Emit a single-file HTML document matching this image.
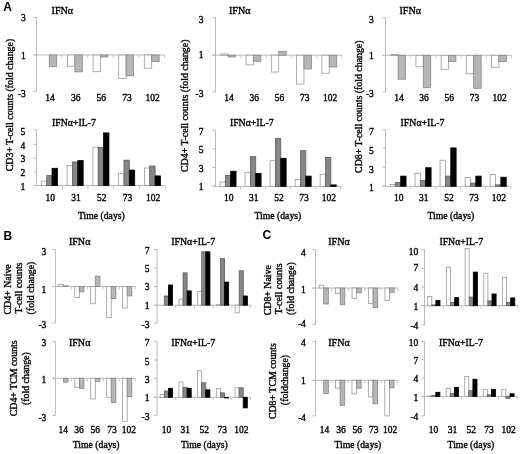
<!DOCTYPE html>
<html><head><meta charset="utf-8"><style>
html,body{margin:0;padding:0;background:#fff;width:520px;height:454px;overflow:hidden;}
svg{display:block;filter:grayscale(1);}
text{font-family:"Liberation Serif",serif;fill:#000;stroke:#000;stroke-width:0.35px;}
.p{font-family:"Liberation Sans",sans-serif;font-weight:bold;font-size:12px;stroke:none;}
</style></head><body>
<svg width="520" height="454" viewBox="0 0 520 454">
<rect width="520" height="454" fill="#fff"/>
<line x1="36.5" y1="17.5" x2="36.5" y2="91.5" stroke="#b9b9b9" stroke-width="1"/>
<line x1="33.5" y1="17.5" x2="36.5" y2="17.5" stroke="#b9b9b9" stroke-width="1"/>
<line x1="33.5" y1="55" x2="36.5" y2="55" stroke="#b9b9b9" stroke-width="1"/>
<line x1="33.5" y1="91.5" x2="36.5" y2="91.5" stroke="#b9b9b9" stroke-width="1"/>
<line x1="33.5" y1="55" x2="164.5" y2="55" stroke="#b9b9b9" stroke-width="1"/>
<rect x="41.90" y="55.00" width="7.40" height="0.00" fill="#ffffff" stroke="#9a9a9a" stroke-width="0.8"/>
<rect x="49.30" y="55.00" width="7.40" height="11.50" fill="#b6b6b6" stroke="#858585" stroke-width="0.8"/>
<rect x="67.50" y="55.00" width="7.40" height="11.20" fill="#ffffff" stroke="#9a9a9a" stroke-width="0.8"/>
<rect x="74.90" y="55.00" width="7.40" height="16.90" fill="#b6b6b6" stroke="#858585" stroke-width="0.8"/>
<rect x="93.10" y="55.00" width="7.40" height="16.70" fill="#ffffff" stroke="#9a9a9a" stroke-width="0.8"/>
<rect x="100.50" y="55.00" width="7.40" height="2.00" fill="#b6b6b6" stroke="#858585" stroke-width="0.8"/>
<rect x="118.70" y="55.00" width="7.40" height="23.40" fill="#ffffff" stroke="#9a9a9a" stroke-width="0.8"/>
<rect x="126.10" y="55.00" width="7.40" height="20.80" fill="#b6b6b6" stroke="#858585" stroke-width="0.8"/>
<rect x="144.30" y="55.00" width="7.40" height="13.20" fill="#ffffff" stroke="#9a9a9a" stroke-width="0.8"/>
<rect x="151.70" y="55.00" width="7.40" height="6.60" fill="#b6b6b6" stroke="#858585" stroke-width="0.8"/>
<line x1="62.10" y1="55" x2="62.10" y2="58" stroke="#c4c4c4" stroke-width="1"/>
<line x1="87.70" y1="55" x2="87.70" y2="58" stroke="#c4c4c4" stroke-width="1"/>
<line x1="113.30" y1="55" x2="113.30" y2="58" stroke="#c4c4c4" stroke-width="1"/>
<line x1="138.90" y1="55" x2="138.90" y2="58" stroke="#c4c4c4" stroke-width="1"/>
<line x1="164.50" y1="55" x2="164.50" y2="58" stroke="#c4c4c4" stroke-width="1"/>
<text x="25.80" y="21.45" text-anchor="end" font-size="9.5">3</text>
<text x="25.80" y="58.65" text-anchor="end" font-size="9.5">1</text>
<text x="25.80" y="96.55" text-anchor="end" font-size="9.5">-3</text>
<text x="51.60" y="13.60" text-anchor="start" font-size="10.1">IFN&#945;</text>
<text x="50.10" y="100.50" text-anchor="middle" font-size="9.5">14</text>
<text x="75.70" y="100.50" text-anchor="middle" font-size="9.5">36</text>
<text x="101.30" y="100.50" text-anchor="middle" font-size="9.5">56</text>
<text x="126.90" y="100.50" text-anchor="middle" font-size="9.5">73</text>
<text x="152.50" y="100.50" text-anchor="middle" font-size="9.5">102</text>
<line x1="36.5" y1="129.9" x2="36.5" y2="185.6" stroke="#b9b9b9" stroke-width="1"/>
<line x1="33.5" y1="129.9" x2="36.5" y2="129.9" stroke="#b9b9b9" stroke-width="1"/>
<line x1="33.5" y1="144.3" x2="36.5" y2="144.3" stroke="#b9b9b9" stroke-width="1"/>
<line x1="33.5" y1="158.2" x2="36.5" y2="158.2" stroke="#b9b9b9" stroke-width="1"/>
<line x1="33.5" y1="171.8" x2="36.5" y2="171.8" stroke="#b9b9b9" stroke-width="1"/>
<line x1="33.5" y1="185.6" x2="36.5" y2="185.6" stroke="#b9b9b9" stroke-width="1"/>
<line x1="33.5" y1="185.6" x2="165.3" y2="185.6" stroke="#b9b9b9" stroke-width="1"/>
<rect x="41.36" y="181.20" width="5.35" height="4.40" fill="#ffffff" stroke="#9a9a9a" stroke-width="0.8"/>
<rect x="46.71" y="175.60" width="5.35" height="10.00" fill="#868686" stroke="#5e5e5e" stroke-width="0.8"/>
<rect x="52.06" y="168.30" width="5.35" height="17.30" fill="#000000" stroke="#000000" stroke-width="0.8"/>
<rect x="67.12" y="165.50" width="5.35" height="20.10" fill="#ffffff" stroke="#9a9a9a" stroke-width="0.8"/>
<rect x="72.47" y="162.00" width="5.35" height="23.60" fill="#868686" stroke="#5e5e5e" stroke-width="0.8"/>
<rect x="77.82" y="160.60" width="5.35" height="25.00" fill="#000000" stroke="#000000" stroke-width="0.8"/>
<rect x="92.88" y="147.20" width="5.35" height="38.40" fill="#ffffff" stroke="#9a9a9a" stroke-width="0.8"/>
<rect x="98.22" y="147.20" width="5.35" height="38.40" fill="#868686" stroke="#5e5e5e" stroke-width="0.8"/>
<rect x="103.58" y="132.90" width="5.35" height="52.70" fill="#000000" stroke="#000000" stroke-width="0.8"/>
<rect x="118.64" y="173.40" width="5.35" height="12.20" fill="#ffffff" stroke="#9a9a9a" stroke-width="0.8"/>
<rect x="123.99" y="160.20" width="5.35" height="25.40" fill="#868686" stroke="#5e5e5e" stroke-width="0.8"/>
<rect x="129.34" y="170.10" width="5.35" height="15.50" fill="#000000" stroke="#000000" stroke-width="0.8"/>
<rect x="144.40" y="168.00" width="5.35" height="17.60" fill="#ffffff" stroke="#9a9a9a" stroke-width="0.8"/>
<rect x="149.75" y="166.00" width="5.35" height="19.60" fill="#868686" stroke="#5e5e5e" stroke-width="0.8"/>
<rect x="155.09" y="175.90" width="5.35" height="9.70" fill="#000000" stroke="#000000" stroke-width="0.8"/>
<line x1="62.26" y1="185.6" x2="62.26" y2="188.6" stroke="#c4c4c4" stroke-width="1"/>
<line x1="88.02" y1="185.6" x2="88.02" y2="188.6" stroke="#c4c4c4" stroke-width="1"/>
<line x1="113.78" y1="185.6" x2="113.78" y2="188.6" stroke="#c4c4c4" stroke-width="1"/>
<line x1="139.54" y1="185.6" x2="139.54" y2="188.6" stroke="#c4c4c4" stroke-width="1"/>
<line x1="165.30" y1="185.6" x2="165.30" y2="188.6" stroke="#c4c4c4" stroke-width="1"/>
<text x="25.30" y="134.85" text-anchor="end" font-size="9.5">5</text>
<text x="25.30" y="148.95" text-anchor="end" font-size="9.5">4</text>
<text x="25.30" y="161.85" text-anchor="end" font-size="9.5">3</text>
<text x="25.30" y="175.65" text-anchor="end" font-size="9.5">2</text>
<text x="25.30" y="189.55" text-anchor="end" font-size="9.5">1</text>
<text x="52.00" y="126.10" text-anchor="start" font-size="9.8">IFN&#945;+IL-7</text>
<text x="50.18" y="200.90" text-anchor="middle" font-size="9.5">10</text>
<text x="75.94" y="200.90" text-anchor="middle" font-size="9.5">31</text>
<text x="101.70" y="200.90" text-anchor="middle" font-size="9.5">52</text>
<text x="127.46" y="200.90" text-anchor="middle" font-size="9.5">73</text>
<text x="153.22" y="200.90" text-anchor="middle" font-size="9.5">102</text>
<line x1="215.5" y1="17.7" x2="215.5" y2="92" stroke="#b9b9b9" stroke-width="1"/>
<line x1="212.5" y1="17.7" x2="215.5" y2="17.7" stroke="#b9b9b9" stroke-width="1"/>
<line x1="212.5" y1="55.2" x2="215.5" y2="55.2" stroke="#b9b9b9" stroke-width="1"/>
<line x1="212.5" y1="92" x2="215.5" y2="92" stroke="#b9b9b9" stroke-width="1"/>
<line x1="212.5" y1="55.2" x2="341.9" y2="55.2" stroke="#b9b9b9" stroke-width="1"/>
<rect x="220.74" y="54.00" width="7.40" height="1.20" fill="#ffffff" stroke="#9a9a9a" stroke-width="0.8"/>
<rect x="228.14" y="55.20" width="7.40" height="1.80" fill="#b6b6b6" stroke="#858585" stroke-width="0.8"/>
<rect x="246.02" y="55.20" width="7.40" height="9.70" fill="#ffffff" stroke="#9a9a9a" stroke-width="0.8"/>
<rect x="253.42" y="55.20" width="7.40" height="6.10" fill="#b6b6b6" stroke="#858585" stroke-width="0.8"/>
<rect x="271.30" y="55.20" width="7.40" height="16.80" fill="#ffffff" stroke="#9a9a9a" stroke-width="0.8"/>
<rect x="278.70" y="51.30" width="7.40" height="3.90" fill="#b6b6b6" stroke="#858585" stroke-width="0.8"/>
<rect x="296.58" y="55.20" width="7.40" height="28.90" fill="#ffffff" stroke="#9a9a9a" stroke-width="0.8"/>
<rect x="303.98" y="55.20" width="7.40" height="13.80" fill="#b6b6b6" stroke="#858585" stroke-width="0.8"/>
<rect x="321.86" y="55.20" width="7.40" height="18.00" fill="#ffffff" stroke="#9a9a9a" stroke-width="0.8"/>
<rect x="329.26" y="55.20" width="7.40" height="11.80" fill="#b6b6b6" stroke="#858585" stroke-width="0.8"/>
<line x1="240.78" y1="55.2" x2="240.78" y2="58.2" stroke="#c4c4c4" stroke-width="1"/>
<line x1="266.06" y1="55.2" x2="266.06" y2="58.2" stroke="#c4c4c4" stroke-width="1"/>
<line x1="291.34" y1="55.2" x2="291.34" y2="58.2" stroke="#c4c4c4" stroke-width="1"/>
<line x1="316.62" y1="55.2" x2="316.62" y2="58.2" stroke="#c4c4c4" stroke-width="1"/>
<line x1="341.90" y1="55.2" x2="341.90" y2="58.2" stroke="#c4c4c4" stroke-width="1"/>
<text x="203.50" y="22.65" text-anchor="end" font-size="9.5">3</text>
<text x="203.50" y="58.45" text-anchor="end" font-size="9.5">1</text>
<text x="203.50" y="97.35" text-anchor="end" font-size="9.5">-3</text>
<text x="229.00" y="13.60" text-anchor="start" font-size="10.1">IFN&#945;</text>
<text x="228.94" y="100.50" text-anchor="middle" font-size="9.5">14</text>
<text x="254.22" y="100.50" text-anchor="middle" font-size="9.5">36</text>
<text x="279.50" y="100.50" text-anchor="middle" font-size="9.5">56</text>
<text x="304.78" y="100.50" text-anchor="middle" font-size="9.5">73</text>
<text x="330.06" y="100.50" text-anchor="middle" font-size="9.5">102</text>
<line x1="215.5" y1="130.3" x2="215.5" y2="186.4" stroke="#b9b9b9" stroke-width="1"/>
<line x1="212.5" y1="130.3" x2="215.5" y2="130.3" stroke="#b9b9b9" stroke-width="1"/>
<line x1="212.5" y1="148.9" x2="215.5" y2="148.9" stroke="#b9b9b9" stroke-width="1"/>
<line x1="212.5" y1="167.4" x2="215.5" y2="167.4" stroke="#b9b9b9" stroke-width="1"/>
<line x1="212.5" y1="186" x2="215.5" y2="186" stroke="#b9b9b9" stroke-width="1"/>
<line x1="212.5" y1="186.4" x2="340.7" y2="186.4" stroke="#b9b9b9" stroke-width="1"/>
<rect x="220.00" y="182.00" width="5.35" height="4.40" fill="#ffffff" stroke="#9a9a9a" stroke-width="0.8"/>
<rect x="225.34" y="175.40" width="5.35" height="11.00" fill="#868686" stroke="#5e5e5e" stroke-width="0.8"/>
<rect x="230.69" y="171.20" width="5.35" height="15.20" fill="#000000" stroke="#000000" stroke-width="0.8"/>
<rect x="245.03" y="172.30" width="5.35" height="14.10" fill="#ffffff" stroke="#9a9a9a" stroke-width="0.8"/>
<rect x="250.38" y="156.70" width="5.35" height="29.70" fill="#868686" stroke="#5e5e5e" stroke-width="0.8"/>
<rect x="255.73" y="173.40" width="5.35" height="13.00" fill="#000000" stroke="#000000" stroke-width="0.8"/>
<rect x="270.08" y="160.70" width="5.35" height="25.70" fill="#ffffff" stroke="#9a9a9a" stroke-width="0.8"/>
<rect x="275.43" y="138.60" width="5.35" height="47.80" fill="#868686" stroke="#5e5e5e" stroke-width="0.8"/>
<rect x="280.78" y="158.30" width="5.35" height="28.10" fill="#000000" stroke="#000000" stroke-width="0.8"/>
<rect x="295.12" y="179.40" width="5.35" height="7.00" fill="#ffffff" stroke="#9a9a9a" stroke-width="0.8"/>
<rect x="300.47" y="150.70" width="5.35" height="35.70" fill="#868686" stroke="#5e5e5e" stroke-width="0.8"/>
<rect x="305.81" y="176.10" width="5.35" height="10.30" fill="#000000" stroke="#000000" stroke-width="0.8"/>
<rect x="320.16" y="174.30" width="5.35" height="12.10" fill="#ffffff" stroke="#9a9a9a" stroke-width="0.8"/>
<rect x="325.51" y="157.40" width="5.35" height="29.00" fill="#868686" stroke="#5e5e5e" stroke-width="0.8"/>
<rect x="330.86" y="184.90" width="5.35" height="1.50" fill="#000000" stroke="#000000" stroke-width="0.8"/>
<line x1="240.54" y1="186.4" x2="240.54" y2="189.4" stroke="#c4c4c4" stroke-width="1"/>
<line x1="265.58" y1="186.4" x2="265.58" y2="189.4" stroke="#c4c4c4" stroke-width="1"/>
<line x1="290.62" y1="186.4" x2="290.62" y2="189.4" stroke="#c4c4c4" stroke-width="1"/>
<line x1="315.66" y1="186.4" x2="315.66" y2="189.4" stroke="#c4c4c4" stroke-width="1"/>
<line x1="340.70" y1="186.4" x2="340.70" y2="189.4" stroke="#c4c4c4" stroke-width="1"/>
<text x="203.50" y="135.25" text-anchor="end" font-size="9.5">7</text>
<text x="203.50" y="152.85" text-anchor="end" font-size="9.5">5</text>
<text x="203.50" y="171.65" text-anchor="end" font-size="9.5">3</text>
<text x="203.50" y="190.35" text-anchor="end" font-size="9.5">1</text>
<text x="229.90" y="126.10" text-anchor="start" font-size="9.8">IFN&#945;+IL-7</text>
<text x="228.82" y="200.90" text-anchor="middle" font-size="9.5">10</text>
<text x="253.86" y="200.90" text-anchor="middle" font-size="9.5">31</text>
<text x="278.90" y="200.90" text-anchor="middle" font-size="9.5">52</text>
<text x="303.94" y="200.90" text-anchor="middle" font-size="9.5">73</text>
<text x="328.98" y="200.90" text-anchor="middle" font-size="9.5">102</text>
<line x1="385.5" y1="17.7" x2="385.5" y2="92" stroke="#b9b9b9" stroke-width="1"/>
<line x1="382.5" y1="17.7" x2="385.5" y2="17.7" stroke="#b9b9b9" stroke-width="1"/>
<line x1="382.5" y1="55.3" x2="385.5" y2="55.3" stroke="#b9b9b9" stroke-width="1"/>
<line x1="382.5" y1="92" x2="385.5" y2="92" stroke="#b9b9b9" stroke-width="1"/>
<line x1="382.5" y1="55.3" x2="511.5" y2="55.3" stroke="#b9b9b9" stroke-width="1"/>
<rect x="390.70" y="54.50" width="7.40" height="0.80" fill="#ffffff" stroke="#9a9a9a" stroke-width="0.8"/>
<rect x="398.10" y="55.30" width="7.40" height="23.90" fill="#b6b6b6" stroke="#858585" stroke-width="0.8"/>
<rect x="415.90" y="55.30" width="7.40" height="11.50" fill="#ffffff" stroke="#9a9a9a" stroke-width="0.8"/>
<rect x="423.30" y="55.30" width="7.40" height="32.40" fill="#b6b6b6" stroke="#858585" stroke-width="0.8"/>
<rect x="441.10" y="55.30" width="7.40" height="13.90" fill="#ffffff" stroke="#9a9a9a" stroke-width="0.8"/>
<rect x="448.50" y="55.30" width="7.40" height="6.30" fill="#b6b6b6" stroke="#858585" stroke-width="0.8"/>
<rect x="466.30" y="55.30" width="7.40" height="18.50" fill="#ffffff" stroke="#9a9a9a" stroke-width="0.8"/>
<rect x="473.70" y="55.30" width="7.40" height="33.00" fill="#b6b6b6" stroke="#858585" stroke-width="0.8"/>
<rect x="491.50" y="55.30" width="7.40" height="11.90" fill="#ffffff" stroke="#9a9a9a" stroke-width="0.8"/>
<rect x="498.90" y="55.30" width="7.40" height="6.30" fill="#b6b6b6" stroke="#858585" stroke-width="0.8"/>
<line x1="410.70" y1="55.3" x2="410.70" y2="58.3" stroke="#c4c4c4" stroke-width="1"/>
<line x1="435.90" y1="55.3" x2="435.90" y2="58.3" stroke="#c4c4c4" stroke-width="1"/>
<line x1="461.10" y1="55.3" x2="461.10" y2="58.3" stroke="#c4c4c4" stroke-width="1"/>
<line x1="486.30" y1="55.3" x2="486.30" y2="58.3" stroke="#c4c4c4" stroke-width="1"/>
<line x1="511.50" y1="55.3" x2="511.50" y2="58.3" stroke="#c4c4c4" stroke-width="1"/>
<text x="373.80" y="22.65" text-anchor="end" font-size="9.5">3</text>
<text x="373.80" y="58.55" text-anchor="end" font-size="9.5">1</text>
<text x="373.80" y="96.95" text-anchor="end" font-size="9.5">-3</text>
<text x="399.50" y="13.60" text-anchor="start" font-size="10.1">IFN&#945;</text>
<text x="398.90" y="100.50" text-anchor="middle" font-size="9.5">14</text>
<text x="424.10" y="100.50" text-anchor="middle" font-size="9.5">36</text>
<text x="449.30" y="100.50" text-anchor="middle" font-size="9.5">56</text>
<text x="474.50" y="100.50" text-anchor="middle" font-size="9.5">73</text>
<text x="499.70" y="100.50" text-anchor="middle" font-size="9.5">102</text>
<line x1="385.5" y1="129.7" x2="385.5" y2="186.3" stroke="#b9b9b9" stroke-width="1"/>
<line x1="382.5" y1="129.7" x2="385.5" y2="129.7" stroke="#b9b9b9" stroke-width="1"/>
<line x1="382.5" y1="148.2" x2="385.5" y2="148.2" stroke="#b9b9b9" stroke-width="1"/>
<line x1="382.5" y1="167.2" x2="385.5" y2="167.2" stroke="#b9b9b9" stroke-width="1"/>
<line x1="382.5" y1="186" x2="385.5" y2="186" stroke="#b9b9b9" stroke-width="1"/>
<line x1="382.5" y1="186.3" x2="510.7" y2="186.3" stroke="#b9b9b9" stroke-width="1"/>
<rect x="390.00" y="184.40" width="5.35" height="1.90" fill="#ffffff" stroke="#9a9a9a" stroke-width="0.8"/>
<rect x="395.35" y="182.60" width="5.35" height="3.70" fill="#868686" stroke="#5e5e5e" stroke-width="0.8"/>
<rect x="400.69" y="176.10" width="5.35" height="10.20" fill="#000000" stroke="#000000" stroke-width="0.8"/>
<rect x="415.04" y="173.20" width="5.35" height="13.10" fill="#ffffff" stroke="#9a9a9a" stroke-width="0.8"/>
<rect x="420.39" y="180.50" width="5.35" height="5.80" fill="#868686" stroke="#5e5e5e" stroke-width="0.8"/>
<rect x="425.74" y="167.70" width="5.35" height="18.60" fill="#000000" stroke="#000000" stroke-width="0.8"/>
<rect x="440.08" y="160.20" width="5.35" height="26.10" fill="#ffffff" stroke="#9a9a9a" stroke-width="0.8"/>
<rect x="445.43" y="176.10" width="5.35" height="10.20" fill="#868686" stroke="#5e5e5e" stroke-width="0.8"/>
<rect x="450.78" y="147.90" width="5.35" height="38.40" fill="#000000" stroke="#000000" stroke-width="0.8"/>
<rect x="465.12" y="177.60" width="5.35" height="8.70" fill="#ffffff" stroke="#9a9a9a" stroke-width="0.8"/>
<rect x="470.47" y="183.10" width="5.35" height="3.20" fill="#868686" stroke="#5e5e5e" stroke-width="0.8"/>
<rect x="475.81" y="176.10" width="5.35" height="10.20" fill="#000000" stroke="#000000" stroke-width="0.8"/>
<rect x="490.16" y="174.50" width="5.35" height="11.80" fill="#ffffff" stroke="#9a9a9a" stroke-width="0.8"/>
<rect x="495.51" y="184.90" width="5.35" height="1.40" fill="#868686" stroke="#5e5e5e" stroke-width="0.8"/>
<rect x="500.86" y="177.20" width="5.35" height="9.10" fill="#000000" stroke="#000000" stroke-width="0.8"/>
<line x1="410.54" y1="186.3" x2="410.54" y2="189.3" stroke="#c4c4c4" stroke-width="1"/>
<line x1="435.58" y1="186.3" x2="435.58" y2="189.3" stroke="#c4c4c4" stroke-width="1"/>
<line x1="460.62" y1="186.3" x2="460.62" y2="189.3" stroke="#c4c4c4" stroke-width="1"/>
<line x1="485.66" y1="186.3" x2="485.66" y2="189.3" stroke="#c4c4c4" stroke-width="1"/>
<line x1="510.70" y1="186.3" x2="510.70" y2="189.3" stroke="#c4c4c4" stroke-width="1"/>
<text x="373.80" y="135.25" text-anchor="end" font-size="9.5">7</text>
<text x="373.80" y="154.05" text-anchor="end" font-size="9.5">5</text>
<text x="373.80" y="173.05" text-anchor="end" font-size="9.5">3</text>
<text x="373.80" y="191.05" text-anchor="end" font-size="9.5">1</text>
<text x="400.60" y="126.10" text-anchor="start" font-size="9.8">IFN&#945;+IL-7</text>
<text x="398.82" y="200.90" text-anchor="middle" font-size="9.5">10</text>
<text x="423.86" y="200.90" text-anchor="middle" font-size="9.5">31</text>
<text x="448.90" y="200.90" text-anchor="middle" font-size="9.5">52</text>
<text x="473.94" y="200.90" text-anchor="middle" font-size="9.5">73</text>
<text x="498.98" y="200.90" text-anchor="middle" font-size="9.5">102</text>
<line x1="55.4" y1="249.5" x2="55.4" y2="323" stroke="#b9b9b9" stroke-width="1"/>
<line x1="52.4" y1="249.5" x2="55.4" y2="249.5" stroke="#b9b9b9" stroke-width="1"/>
<line x1="52.4" y1="286.5" x2="55.4" y2="286.5" stroke="#b9b9b9" stroke-width="1"/>
<line x1="52.4" y1="323" x2="55.4" y2="323" stroke="#b9b9b9" stroke-width="1"/>
<line x1="52.4" y1="286.5" x2="135.2" y2="286.5" stroke="#b9b9b9" stroke-width="1"/>
<rect x="58.78" y="284.50" width="4.60" height="2.00" fill="#ffffff" stroke="#9a9a9a" stroke-width="0.8"/>
<rect x="63.38" y="285.80" width="4.60" height="0.70" fill="#b6b6b6" stroke="#858585" stroke-width="0.8"/>
<rect x="74.74" y="286.50" width="4.60" height="10.90" fill="#ffffff" stroke="#9a9a9a" stroke-width="0.8"/>
<rect x="79.34" y="286.50" width="4.60" height="5.40" fill="#b6b6b6" stroke="#858585" stroke-width="0.8"/>
<rect x="90.70" y="286.50" width="4.60" height="17.30" fill="#ffffff" stroke="#9a9a9a" stroke-width="0.8"/>
<rect x="95.30" y="276.20" width="4.60" height="10.30" fill="#b6b6b6" stroke="#858585" stroke-width="0.8"/>
<rect x="106.66" y="286.50" width="4.60" height="31.10" fill="#ffffff" stroke="#9a9a9a" stroke-width="0.8"/>
<rect x="111.26" y="286.50" width="4.60" height="12.10" fill="#b6b6b6" stroke="#858585" stroke-width="0.8"/>
<rect x="122.62" y="286.50" width="4.60" height="21.60" fill="#ffffff" stroke="#9a9a9a" stroke-width="0.8"/>
<rect x="127.22" y="286.50" width="4.60" height="9.40" fill="#b6b6b6" stroke="#858585" stroke-width="0.8"/>
<line x1="71.36" y1="286.5" x2="71.36" y2="289.5" stroke="#c4c4c4" stroke-width="1"/>
<line x1="87.32" y1="286.5" x2="87.32" y2="289.5" stroke="#c4c4c4" stroke-width="1"/>
<line x1="103.28" y1="286.5" x2="103.28" y2="289.5" stroke="#c4c4c4" stroke-width="1"/>
<line x1="119.24" y1="286.5" x2="119.24" y2="289.5" stroke="#c4c4c4" stroke-width="1"/>
<line x1="135.20" y1="286.5" x2="135.20" y2="289.5" stroke="#c4c4c4" stroke-width="1"/>
<text x="46.30" y="255.45" text-anchor="end" font-size="9.5">3</text>
<text x="46.30" y="292.85" text-anchor="end" font-size="9.5">1</text>
<text x="46.30" y="327.55" text-anchor="end" font-size="9.5">-3</text>
<text x="68.90" y="245.20" text-anchor="start" font-size="10.1">IFN&#945;</text>
<line x1="157.0" y1="249.5" x2="157.0" y2="323.2" stroke="#b9b9b9" stroke-width="1"/>
<line x1="154.0" y1="249.5" x2="157.0" y2="249.5" stroke="#b9b9b9" stroke-width="1"/>
<line x1="154.0" y1="268" x2="157.0" y2="268" stroke="#b9b9b9" stroke-width="1"/>
<line x1="154.0" y1="286.6" x2="157.0" y2="286.6" stroke="#b9b9b9" stroke-width="1"/>
<line x1="154.0" y1="305.2" x2="157.0" y2="305.2" stroke="#b9b9b9" stroke-width="1"/>
<line x1="154.0" y1="323.2" x2="157.0" y2="323.2" stroke="#b9b9b9" stroke-width="1"/>
<line x1="154.0" y1="305.2" x2="250.6" y2="305.2" stroke="#b9b9b9" stroke-width="1"/>
<rect x="160.21" y="305.20" width="4.10" height="0.00" fill="#ffffff" stroke="#9a9a9a" stroke-width="0.8"/>
<rect x="164.31" y="296.00" width="4.10" height="9.20" fill="#868686" stroke="#5e5e5e" stroke-width="0.8"/>
<rect x="168.41" y="285.00" width="4.10" height="20.20" fill="#000000" stroke="#000000" stroke-width="0.8"/>
<rect x="178.93" y="299.20" width="4.10" height="6.00" fill="#ffffff" stroke="#9a9a9a" stroke-width="0.8"/>
<rect x="183.03" y="272.80" width="4.10" height="32.40" fill="#868686" stroke="#5e5e5e" stroke-width="0.8"/>
<rect x="187.13" y="290.90" width="4.10" height="14.30" fill="#000000" stroke="#000000" stroke-width="0.8"/>
<rect x="197.65" y="291.40" width="4.10" height="13.80" fill="#ffffff" stroke="#9a9a9a" stroke-width="0.8"/>
<rect x="201.75" y="251.80" width="4.10" height="53.40" fill="#868686" stroke="#5e5e5e" stroke-width="0.8"/>
<rect x="205.85" y="251.80" width="4.10" height="53.40" fill="#000000" stroke="#000000" stroke-width="0.8"/>
<rect x="216.37" y="304.80" width="4.10" height="0.40" fill="#ffffff" stroke="#9a9a9a" stroke-width="0.8"/>
<rect x="220.47" y="258.60" width="4.10" height="46.60" fill="#868686" stroke="#5e5e5e" stroke-width="0.8"/>
<rect x="224.57" y="282.10" width="4.10" height="23.10" fill="#000000" stroke="#000000" stroke-width="0.8"/>
<rect x="235.09" y="305.20" width="4.10" height="7.70" fill="#ffffff" stroke="#9a9a9a" stroke-width="0.8"/>
<rect x="239.19" y="270.80" width="4.10" height="34.40" fill="#868686" stroke="#5e5e5e" stroke-width="0.8"/>
<rect x="243.29" y="296.00" width="4.10" height="9.20" fill="#000000" stroke="#000000" stroke-width="0.8"/>
<line x1="175.72" y1="305.2" x2="175.72" y2="308.2" stroke="#c4c4c4" stroke-width="1"/>
<line x1="194.44" y1="305.2" x2="194.44" y2="308.2" stroke="#c4c4c4" stroke-width="1"/>
<line x1="213.16" y1="305.2" x2="213.16" y2="308.2" stroke="#c4c4c4" stroke-width="1"/>
<line x1="231.88" y1="305.2" x2="231.88" y2="308.2" stroke="#c4c4c4" stroke-width="1"/>
<line x1="250.60" y1="305.2" x2="250.60" y2="308.2" stroke="#c4c4c4" stroke-width="1"/>
<text x="149.50" y="254.25" text-anchor="end" font-size="9.5">7</text>
<text x="149.50" y="271.75" text-anchor="end" font-size="9.5">5</text>
<text x="149.50" y="290.45" text-anchor="end" font-size="9.5">3</text>
<text x="149.50" y="308.85" text-anchor="end" font-size="9.5">1</text>
<text x="149.50" y="327.55" text-anchor="end" font-size="9.5">-3</text>
<text x="171.30" y="245.20" text-anchor="start" font-size="9.8">IFN&#945;+IL-7</text>
<line x1="55.4" y1="341.3" x2="55.4" y2="415.4" stroke="#b9b9b9" stroke-width="1"/>
<line x1="52.4" y1="341.3" x2="55.4" y2="341.3" stroke="#b9b9b9" stroke-width="1"/>
<line x1="52.4" y1="378.3" x2="55.4" y2="378.3" stroke="#b9b9b9" stroke-width="1"/>
<line x1="52.4" y1="415.4" x2="55.4" y2="415.4" stroke="#b9b9b9" stroke-width="1"/>
<line x1="52.4" y1="378.3" x2="135.2" y2="378.3" stroke="#b9b9b9" stroke-width="1"/>
<rect x="58.78" y="378.30" width="4.60" height="0.00" fill="#ffffff" stroke="#9a9a9a" stroke-width="0.8"/>
<rect x="63.38" y="378.30" width="4.60" height="3.90" fill="#b6b6b6" stroke="#858585" stroke-width="0.8"/>
<rect x="74.74" y="378.30" width="4.60" height="9.00" fill="#ffffff" stroke="#9a9a9a" stroke-width="0.8"/>
<rect x="79.34" y="378.30" width="4.60" height="10.00" fill="#b6b6b6" stroke="#858585" stroke-width="0.8"/>
<rect x="90.70" y="378.30" width="4.60" height="20.70" fill="#ffffff" stroke="#9a9a9a" stroke-width="0.8"/>
<rect x="95.30" y="378.30" width="4.60" height="3.20" fill="#b6b6b6" stroke="#858585" stroke-width="0.8"/>
<rect x="106.66" y="378.30" width="4.60" height="19.00" fill="#ffffff" stroke="#9a9a9a" stroke-width="0.8"/>
<rect x="111.26" y="378.30" width="4.60" height="24.30" fill="#b6b6b6" stroke="#858585" stroke-width="0.8"/>
<rect x="122.62" y="378.30" width="4.60" height="43.00" fill="#ffffff" stroke="#9a9a9a" stroke-width="0.8"/>
<rect x="127.22" y="378.30" width="4.60" height="18.30" fill="#b6b6b6" stroke="#858585" stroke-width="0.8"/>
<line x1="71.36" y1="378.3" x2="71.36" y2="381.3" stroke="#c4c4c4" stroke-width="1"/>
<line x1="87.32" y1="378.3" x2="87.32" y2="381.3" stroke="#c4c4c4" stroke-width="1"/>
<line x1="103.28" y1="378.3" x2="103.28" y2="381.3" stroke="#c4c4c4" stroke-width="1"/>
<line x1="119.24" y1="378.3" x2="119.24" y2="381.3" stroke="#c4c4c4" stroke-width="1"/>
<line x1="135.20" y1="378.3" x2="135.20" y2="381.3" stroke="#c4c4c4" stroke-width="1"/>
<text x="46.30" y="345.75" text-anchor="end" font-size="9.5">3</text>
<text x="46.30" y="383.45" text-anchor="end" font-size="9.5">1</text>
<text x="46.30" y="421.15" text-anchor="end" font-size="9.5">-3</text>
<text x="68.90" y="345.90" text-anchor="start" font-size="10.1">IFN&#945;</text>
<text x="63.28" y="432.60" text-anchor="middle" font-size="9.5">14</text>
<text x="78.94" y="432.60" text-anchor="middle" font-size="9.5">36</text>
<text x="95.30" y="432.60" text-anchor="middle" font-size="9.5">56</text>
<text x="112.06" y="432.60" text-anchor="middle" font-size="9.5">73</text>
<text x="128.82" y="432.60" text-anchor="middle" font-size="9.5">102</text>
<line x1="157.0" y1="341.3" x2="157.0" y2="415.4" stroke="#b9b9b9" stroke-width="1"/>
<line x1="154.0" y1="341.3" x2="157.0" y2="341.3" stroke="#b9b9b9" stroke-width="1"/>
<line x1="154.0" y1="360" x2="157.0" y2="360" stroke="#b9b9b9" stroke-width="1"/>
<line x1="154.0" y1="378.6" x2="157.0" y2="378.6" stroke="#b9b9b9" stroke-width="1"/>
<line x1="154.0" y1="397.3" x2="157.0" y2="397.3" stroke="#b9b9b9" stroke-width="1"/>
<line x1="154.0" y1="415.4" x2="157.0" y2="415.4" stroke="#b9b9b9" stroke-width="1"/>
<line x1="154.0" y1="397.3" x2="250.5" y2="397.3" stroke="#b9b9b9" stroke-width="1"/>
<rect x="160.20" y="394.60" width="4.10" height="2.70" fill="#ffffff" stroke="#9a9a9a" stroke-width="0.8"/>
<rect x="164.30" y="391.00" width="4.10" height="6.30" fill="#868686" stroke="#5e5e5e" stroke-width="0.8"/>
<rect x="168.40" y="388.30" width="4.10" height="9.00" fill="#000000" stroke="#000000" stroke-width="0.8"/>
<rect x="178.90" y="382.00" width="4.10" height="15.30" fill="#ffffff" stroke="#9a9a9a" stroke-width="0.8"/>
<rect x="183.00" y="387.30" width="4.10" height="10.00" fill="#868686" stroke="#5e5e5e" stroke-width="0.8"/>
<rect x="187.10" y="388.30" width="4.10" height="9.00" fill="#000000" stroke="#000000" stroke-width="0.8"/>
<rect x="197.60" y="370.70" width="4.10" height="26.60" fill="#ffffff" stroke="#9a9a9a" stroke-width="0.8"/>
<rect x="201.70" y="382.80" width="4.10" height="14.50" fill="#868686" stroke="#5e5e5e" stroke-width="0.8"/>
<rect x="205.80" y="389.80" width="4.10" height="7.50" fill="#000000" stroke="#000000" stroke-width="0.8"/>
<rect x="216.30" y="388.30" width="4.10" height="9.00" fill="#ffffff" stroke="#9a9a9a" stroke-width="0.8"/>
<rect x="220.40" y="392.80" width="4.10" height="4.50" fill="#868686" stroke="#5e5e5e" stroke-width="0.8"/>
<rect x="224.50" y="397.30" width="4.10" height="0.70" fill="#000000" stroke="#000000" stroke-width="0.8"/>
<rect x="235.00" y="387.80" width="4.10" height="9.50" fill="#ffffff" stroke="#9a9a9a" stroke-width="0.8"/>
<rect x="239.10" y="387.80" width="4.10" height="9.50" fill="#868686" stroke="#5e5e5e" stroke-width="0.8"/>
<rect x="243.20" y="397.30" width="4.10" height="10.60" fill="#000000" stroke="#000000" stroke-width="0.8"/>
<line x1="175.70" y1="397.3" x2="175.70" y2="400.3" stroke="#c4c4c4" stroke-width="1"/>
<line x1="194.40" y1="397.3" x2="194.40" y2="400.3" stroke="#c4c4c4" stroke-width="1"/>
<line x1="213.10" y1="397.3" x2="213.10" y2="400.3" stroke="#c4c4c4" stroke-width="1"/>
<line x1="231.80" y1="397.3" x2="231.80" y2="400.3" stroke="#c4c4c4" stroke-width="1"/>
<line x1="250.50" y1="397.3" x2="250.50" y2="400.3" stroke="#c4c4c4" stroke-width="1"/>
<text x="149.50" y="345.85" text-anchor="end" font-size="9.5">7</text>
<text x="149.50" y="364.65" text-anchor="end" font-size="9.5">5</text>
<text x="149.50" y="382.75" text-anchor="end" font-size="9.5">3</text>
<text x="149.50" y="401.05" text-anchor="end" font-size="9.5">1</text>
<text x="149.50" y="419.95" text-anchor="end" font-size="9.5">-3</text>
<text x="171.30" y="345.90" text-anchor="start" font-size="9.8">IFN&#945;+IL-7</text>
<text x="166.55" y="432.90" text-anchor="middle" font-size="9.5">10</text>
<text x="185.35" y="432.90" text-anchor="middle" font-size="9.5">31</text>
<text x="204.35" y="432.90" text-anchor="middle" font-size="9.5">52</text>
<text x="222.25" y="432.90" text-anchor="middle" font-size="9.5">73</text>
<text x="241.45" y="432.90" text-anchor="middle" font-size="9.5">102</text>
<line x1="315.5" y1="249.6" x2="315.5" y2="324.3" stroke="#b9b9b9" stroke-width="1"/>
<line x1="312.5" y1="249.6" x2="315.5" y2="249.6" stroke="#b9b9b9" stroke-width="1"/>
<line x1="312.5" y1="288" x2="315.5" y2="288" stroke="#b9b9b9" stroke-width="1"/>
<line x1="312.5" y1="324.3" x2="315.5" y2="324.3" stroke="#b9b9b9" stroke-width="1"/>
<line x1="312.5" y1="288" x2="397.8" y2="288" stroke="#b9b9b9" stroke-width="1"/>
<rect x="319.13" y="285.20" width="4.60" height="2.80" fill="#ffffff" stroke="#9a9a9a" stroke-width="0.8"/>
<rect x="323.73" y="288.00" width="4.60" height="16.00" fill="#b6b6b6" stroke="#858585" stroke-width="0.8"/>
<rect x="335.59" y="288.00" width="4.60" height="5.30" fill="#ffffff" stroke="#9a9a9a" stroke-width="0.8"/>
<rect x="340.19" y="288.00" width="4.60" height="16.80" fill="#b6b6b6" stroke="#858585" stroke-width="0.8"/>
<rect x="352.05" y="288.00" width="4.60" height="10.30" fill="#ffffff" stroke="#9a9a9a" stroke-width="0.8"/>
<rect x="356.65" y="288.00" width="4.60" height="4.80" fill="#b6b6b6" stroke="#858585" stroke-width="0.8"/>
<rect x="368.51" y="288.00" width="4.60" height="15.40" fill="#ffffff" stroke="#9a9a9a" stroke-width="0.8"/>
<rect x="373.11" y="288.00" width="4.60" height="19.60" fill="#b6b6b6" stroke="#858585" stroke-width="0.8"/>
<rect x="384.97" y="288.00" width="4.60" height="12.40" fill="#ffffff" stroke="#9a9a9a" stroke-width="0.8"/>
<rect x="389.57" y="288.00" width="4.60" height="4.30" fill="#b6b6b6" stroke="#858585" stroke-width="0.8"/>
<line x1="331.96" y1="288" x2="331.96" y2="291" stroke="#c4c4c4" stroke-width="1"/>
<line x1="348.42" y1="288" x2="348.42" y2="291" stroke="#c4c4c4" stroke-width="1"/>
<line x1="364.88" y1="288" x2="364.88" y2="291" stroke="#c4c4c4" stroke-width="1"/>
<line x1="381.34" y1="288" x2="381.34" y2="291" stroke="#c4c4c4" stroke-width="1"/>
<line x1="397.80" y1="288" x2="397.80" y2="291" stroke="#c4c4c4" stroke-width="1"/>
<text x="305.80" y="255.85" text-anchor="end" font-size="9.5">4</text>
<text x="305.80" y="292.95" text-anchor="end" font-size="9.5">1</text>
<text x="305.80" y="327.35" text-anchor="end" font-size="9.5">-4</text>
<text x="328.20" y="245.20" text-anchor="start" font-size="10.1">IFN&#945;</text>
<line x1="424.5" y1="249.8" x2="424.5" y2="324.8" stroke="#b9b9b9" stroke-width="1"/>
<line x1="421.5" y1="249.8" x2="424.5" y2="249.8" stroke="#b9b9b9" stroke-width="1"/>
<line x1="421.5" y1="268.4" x2="424.5" y2="268.4" stroke="#b9b9b9" stroke-width="1"/>
<line x1="421.5" y1="287.1" x2="424.5" y2="287.1" stroke="#b9b9b9" stroke-width="1"/>
<line x1="421.5" y1="305.7" x2="424.5" y2="305.7" stroke="#b9b9b9" stroke-width="1"/>
<line x1="421.5" y1="324.8" x2="424.5" y2="324.8" stroke="#b9b9b9" stroke-width="1"/>
<line x1="421.5" y1="305.7" x2="518" y2="305.7" stroke="#b9b9b9" stroke-width="1"/>
<rect x="427.70" y="296.40" width="4.10" height="9.30" fill="#ffffff" stroke="#9a9a9a" stroke-width="0.8"/>
<rect x="431.80" y="304.90" width="4.10" height="0.80" fill="#868686" stroke="#5e5e5e" stroke-width="0.8"/>
<rect x="435.90" y="300.40" width="4.10" height="5.30" fill="#000000" stroke="#000000" stroke-width="0.8"/>
<rect x="446.40" y="267.20" width="4.10" height="38.50" fill="#ffffff" stroke="#9a9a9a" stroke-width="0.8"/>
<rect x="450.50" y="302.40" width="4.10" height="3.30" fill="#868686" stroke="#5e5e5e" stroke-width="0.8"/>
<rect x="454.60" y="297.60" width="4.10" height="8.10" fill="#000000" stroke="#000000" stroke-width="0.8"/>
<rect x="465.10" y="248.40" width="4.10" height="57.30" fill="#ffffff" stroke="#9a9a9a" stroke-width="0.8"/>
<rect x="469.20" y="297.10" width="4.10" height="8.60" fill="#868686" stroke="#5e5e5e" stroke-width="0.8"/>
<rect x="473.30" y="272.10" width="4.10" height="33.60" fill="#000000" stroke="#000000" stroke-width="0.8"/>
<rect x="483.80" y="273.20" width="4.10" height="32.50" fill="#ffffff" stroke="#9a9a9a" stroke-width="0.8"/>
<rect x="487.90" y="300.80" width="4.10" height="4.90" fill="#868686" stroke="#5e5e5e" stroke-width="0.8"/>
<rect x="492.00" y="294.00" width="4.10" height="11.70" fill="#000000" stroke="#000000" stroke-width="0.8"/>
<rect x="502.50" y="277.30" width="4.10" height="28.40" fill="#ffffff" stroke="#9a9a9a" stroke-width="0.8"/>
<rect x="506.60" y="302.40" width="4.10" height="3.30" fill="#868686" stroke="#5e5e5e" stroke-width="0.8"/>
<rect x="510.70" y="297.90" width="4.10" height="7.80" fill="#000000" stroke="#000000" stroke-width="0.8"/>
<line x1="443.20" y1="305.7" x2="443.20" y2="308.7" stroke="#c4c4c4" stroke-width="1"/>
<line x1="461.90" y1="305.7" x2="461.90" y2="308.7" stroke="#c4c4c4" stroke-width="1"/>
<line x1="480.60" y1="305.7" x2="480.60" y2="308.7" stroke="#c4c4c4" stroke-width="1"/>
<line x1="499.30" y1="305.7" x2="499.30" y2="308.7" stroke="#c4c4c4" stroke-width="1"/>
<line x1="518.00" y1="305.7" x2="518.00" y2="308.7" stroke="#c4c4c4" stroke-width="1"/>
<text x="418.30" y="255.35" text-anchor="end" font-size="9.5">10</text>
<text x="418.30" y="271.45" text-anchor="end" font-size="9.5">7</text>
<text x="418.30" y="291.05" text-anchor="end" font-size="9.5">4</text>
<text x="418.30" y="309.95" text-anchor="end" font-size="9.5">1</text>
<text x="418.30" y="328.75" text-anchor="end" font-size="9.5">-4</text>
<text x="439.40" y="245.20" text-anchor="start" font-size="9.8">IFN&#945;+IL-7</text>
<line x1="315.5" y1="341.3" x2="315.5" y2="415.8" stroke="#b9b9b9" stroke-width="1"/>
<line x1="312.5" y1="341.3" x2="315.5" y2="341.3" stroke="#b9b9b9" stroke-width="1"/>
<line x1="312.5" y1="380.3" x2="315.5" y2="380.3" stroke="#b9b9b9" stroke-width="1"/>
<line x1="312.5" y1="415.8" x2="315.5" y2="415.8" stroke="#b9b9b9" stroke-width="1"/>
<line x1="312.5" y1="380.3" x2="397.6" y2="380.3" stroke="#b9b9b9" stroke-width="1"/>
<rect x="319.11" y="380.30" width="4.60" height="0.00" fill="#ffffff" stroke="#9a9a9a" stroke-width="0.8"/>
<rect x="323.71" y="380.30" width="4.60" height="13.20" fill="#b6b6b6" stroke="#858585" stroke-width="0.8"/>
<rect x="335.53" y="380.30" width="4.60" height="7.90" fill="#ffffff" stroke="#9a9a9a" stroke-width="0.8"/>
<rect x="340.13" y="380.30" width="4.60" height="25.00" fill="#b6b6b6" stroke="#858585" stroke-width="0.8"/>
<rect x="351.95" y="380.30" width="4.60" height="13.70" fill="#ffffff" stroke="#9a9a9a" stroke-width="0.8"/>
<rect x="356.55" y="380.30" width="4.60" height="7.90" fill="#b6b6b6" stroke="#858585" stroke-width="0.8"/>
<rect x="368.37" y="380.30" width="4.60" height="16.70" fill="#ffffff" stroke="#9a9a9a" stroke-width="0.8"/>
<rect x="372.97" y="380.30" width="4.60" height="23.50" fill="#b6b6b6" stroke="#858585" stroke-width="0.8"/>
<rect x="384.79" y="380.30" width="4.60" height="35.60" fill="#ffffff" stroke="#9a9a9a" stroke-width="0.8"/>
<rect x="389.39" y="380.30" width="4.60" height="7.50" fill="#b6b6b6" stroke="#858585" stroke-width="0.8"/>
<line x1="331.92" y1="380.3" x2="331.92" y2="383.3" stroke="#c4c4c4" stroke-width="1"/>
<line x1="348.34" y1="380.3" x2="348.34" y2="383.3" stroke="#c4c4c4" stroke-width="1"/>
<line x1="364.76" y1="380.3" x2="364.76" y2="383.3" stroke="#c4c4c4" stroke-width="1"/>
<line x1="381.18" y1="380.3" x2="381.18" y2="383.3" stroke="#c4c4c4" stroke-width="1"/>
<line x1="397.60" y1="380.3" x2="397.60" y2="383.3" stroke="#c4c4c4" stroke-width="1"/>
<text x="305.80" y="345.75" text-anchor="end" font-size="9.5">4</text>
<text x="305.80" y="384.25" text-anchor="end" font-size="9.5">1</text>
<text x="305.80" y="421.05" text-anchor="end" font-size="9.5">-4</text>
<text x="328.20" y="345.90" text-anchor="start" font-size="10.1">IFN&#945;</text>
<text x="324.51" y="433.10" text-anchor="middle" font-size="9.5">14</text>
<text x="340.93" y="433.10" text-anchor="middle" font-size="9.5">36</text>
<text x="357.35" y="433.10" text-anchor="middle" font-size="9.5">56</text>
<text x="373.77" y="433.10" text-anchor="middle" font-size="9.5">73</text>
<text x="390.19" y="433.10" text-anchor="middle" font-size="9.5">102</text>
<line x1="424.5" y1="341.3" x2="424.5" y2="415.8" stroke="#b9b9b9" stroke-width="1"/>
<line x1="421.5" y1="341.3" x2="424.5" y2="341.3" stroke="#b9b9b9" stroke-width="1"/>
<line x1="421.5" y1="359.7" x2="424.5" y2="359.7" stroke="#b9b9b9" stroke-width="1"/>
<line x1="421.5" y1="378" x2="424.5" y2="378" stroke="#b9b9b9" stroke-width="1"/>
<line x1="421.5" y1="396.4" x2="424.5" y2="396.4" stroke="#b9b9b9" stroke-width="1"/>
<line x1="421.5" y1="415.8" x2="424.5" y2="415.8" stroke="#b9b9b9" stroke-width="1"/>
<line x1="421.5" y1="396.4" x2="517.2" y2="396.4" stroke="#b9b9b9" stroke-width="1"/>
<rect x="427.62" y="396.00" width="4.10" height="0.40" fill="#ffffff" stroke="#9a9a9a" stroke-width="0.8"/>
<rect x="431.72" y="395.60" width="4.10" height="0.80" fill="#868686" stroke="#5e5e5e" stroke-width="0.8"/>
<rect x="435.82" y="392.30" width="4.10" height="4.10" fill="#000000" stroke="#000000" stroke-width="0.8"/>
<rect x="446.16" y="388.20" width="4.10" height="8.20" fill="#ffffff" stroke="#9a9a9a" stroke-width="0.8"/>
<rect x="450.26" y="393.40" width="4.10" height="3.00" fill="#868686" stroke="#5e5e5e" stroke-width="0.8"/>
<rect x="454.36" y="387.40" width="4.10" height="9.00" fill="#000000" stroke="#000000" stroke-width="0.8"/>
<rect x="464.70" y="376.40" width="4.10" height="20.00" fill="#ffffff" stroke="#9a9a9a" stroke-width="0.8"/>
<rect x="468.80" y="390.70" width="4.10" height="5.70" fill="#868686" stroke="#5e5e5e" stroke-width="0.8"/>
<rect x="472.90" y="379.20" width="4.10" height="17.20" fill="#000000" stroke="#000000" stroke-width="0.8"/>
<rect x="483.24" y="389.30" width="4.10" height="7.10" fill="#ffffff" stroke="#9a9a9a" stroke-width="0.8"/>
<rect x="487.34" y="394.80" width="4.10" height="1.60" fill="#868686" stroke="#5e5e5e" stroke-width="0.8"/>
<rect x="491.44" y="389.30" width="4.10" height="7.10" fill="#000000" stroke="#000000" stroke-width="0.8"/>
<rect x="501.78" y="389.30" width="4.10" height="7.10" fill="#ffffff" stroke="#9a9a9a" stroke-width="0.8"/>
<rect x="505.88" y="396.40" width="4.10" height="1.90" fill="#868686" stroke="#5e5e5e" stroke-width="0.8"/>
<rect x="509.98" y="393.70" width="4.10" height="2.70" fill="#000000" stroke="#000000" stroke-width="0.8"/>
<line x1="443.04" y1="396.4" x2="443.04" y2="399.4" stroke="#c4c4c4" stroke-width="1"/>
<line x1="461.58" y1="396.4" x2="461.58" y2="399.4" stroke="#c4c4c4" stroke-width="1"/>
<line x1="480.12" y1="396.4" x2="480.12" y2="399.4" stroke="#c4c4c4" stroke-width="1"/>
<line x1="498.66" y1="396.4" x2="498.66" y2="399.4" stroke="#c4c4c4" stroke-width="1"/>
<line x1="517.20" y1="396.4" x2="517.20" y2="399.4" stroke="#c4c4c4" stroke-width="1"/>
<text x="418.30" y="345.55" text-anchor="end" font-size="9.5">10</text>
<text x="418.30" y="363.75" text-anchor="end" font-size="9.5">7</text>
<text x="418.30" y="382.25" text-anchor="end" font-size="9.5">4</text>
<text x="418.30" y="400.65" text-anchor="end" font-size="9.5">1</text>
<text x="418.30" y="419.95" text-anchor="end" font-size="9.5">-4</text>
<text x="439.00" y="345.90" text-anchor="start" font-size="9.8">IFN&#945;+IL-7</text>
<text x="433.57" y="433.10" text-anchor="middle" font-size="9.5">10</text>
<text x="452.51" y="433.10" text-anchor="middle" font-size="9.5">31</text>
<text x="471.25" y="433.10" text-anchor="middle" font-size="9.5">52</text>
<text x="488.99" y="433.10" text-anchor="middle" font-size="9.5">73</text>
<text x="508.73" y="433.10" text-anchor="middle" font-size="9.5">102</text>
<text x="78.00" y="219.00" text-anchor="start" font-size="9.7">Time (days)</text>
<text x="254.50" y="219.00" text-anchor="start" font-size="9.7">Time (days)</text>
<text x="427.50" y="219.00" text-anchor="start" font-size="9.7">Time (days)</text>
<text x="72.80" y="447.80" text-anchor="start" font-size="9.7">Time (days)</text>
<text x="181.00" y="447.80" text-anchor="start" font-size="9.7">Time (days)</text>
<text x="334.50" y="448.30" text-anchor="start" font-size="9.7">Time (days)</text>
<text x="447.60" y="448.00" text-anchor="start" font-size="9.7">Time (days)</text>
<text transform="translate(13.20,105.00) rotate(-90)" x="0" y="0" text-anchor="middle" font-size="9.85">CD3+ T-cell counts (fold change)</text>
<text transform="translate(188.20,105.75) rotate(-90)" x="0" y="0" text-anchor="middle" font-size="9.85">CD4+ T-cell counts (fold change)</text>
<text transform="translate(361.80,106.70) rotate(-90)" x="0" y="0" text-anchor="middle" font-size="9.85">CD8+ T-cell counts (fold change)</text>
<text transform="translate(10.80,289.40) rotate(-90)" x="0" y="0" text-anchor="middle" font-size="9.9">CD4+ Naive</text>
<text transform="translate(21.60,288.00) rotate(-90)" x="0" y="0" text-anchor="middle" font-size="9.9">T-cell counts</text>
<text transform="translate(33.70,288.00) rotate(-90)" x="0" y="0" text-anchor="middle" font-size="9.85">(fold change)</text>
<text transform="translate(16.60,378.30) rotate(-90)" x="0" y="0" text-anchor="middle" font-size="9.85">CD4+ TCM counts</text>
<text transform="translate(28.50,378.60) rotate(-90)" x="0" y="0" text-anchor="middle" font-size="9.85">(fold change)</text>
<text transform="translate(270.50,290.20) rotate(-90)" x="0" y="0" text-anchor="middle" font-size="9.85">CD8+ Naive</text>
<text transform="translate(281.90,288.90) rotate(-90)" x="0" y="0" text-anchor="middle" font-size="9.85">T-cell counts</text>
<text transform="translate(294.20,288.70) rotate(-90)" x="0" y="0" text-anchor="middle" font-size="9.85">(fold change)</text>
<text transform="translate(276.40,381.10) rotate(-90)" x="0" y="0" text-anchor="middle" font-size="9.85">CD8+ TCM counts</text>
<text transform="translate(287.60,380.00) rotate(-90)" x="0" y="0" text-anchor="middle" font-size="9.85">(foldchange)</text>
<text x="3.2" y="11.0" class="p">A</text>
<text x="3.6" y="239.6" class="p">B</text>
<text x="262.4" y="238.6" class="p">C</text>
</svg></body></html>
